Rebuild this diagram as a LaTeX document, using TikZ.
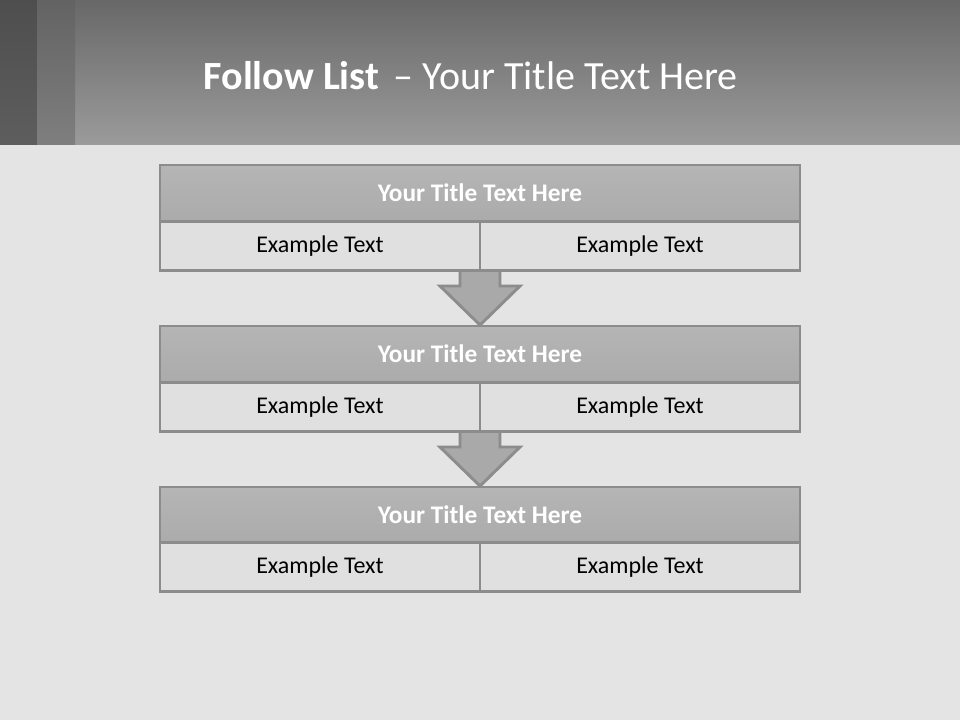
\documentclass[tikz,border=0pt]{standalone}
\usepackage{fontspec}
\setmainfont{Carlito}
\definecolor{bgmarble}{HTML}{E4E4E4}
\definecolor{bartop}{HTML}{686868}
\definecolor{barbottom}{HTML}{9B9B9B}
\definecolor{edgegray}{HTML}{8C8C8C}
\definecolor{headgray}{HTML}{ABABAB}
\definecolor{cellgray}{HTML}{E0E0E0}
\definecolor{arrowgray}{HTML}{A9A9A9}

\begin{document}
\begin{tikzpicture}[x=0.75pt,y=-0.75pt,
  boxhead/.style={rectangle,draw=edgegray,line width=2.2pt,
    top color=headgray!88!white,bottom color=headgray,
    minimum width=480pt,minimum height=42pt,inner sep=0pt,
    text=white,font=\bfseries\fontsize{19}{23}\selectfont},
  boxcell/.style={rectangle,draw=edgegray,line width=2.2pt,fill=cellgray,
    minimum width=240pt,minimum height=36.75pt,inner sep=0pt,
    font=\fontsize{18}{22}\selectfont},
  downarrow/.style={draw=edgegray,line width=2.2pt,fill=arrowgray,line join=miter}]
  % slide background and header bar
  \useasboundingbox (0,0) rectangle (960,720);
  \fill[bgmarble] (0,0) rectangle (960,720);
  \shade[top color=bartop,bottom color=barbottom] (0,0) rectangle (960,145);
  \shade[top color=bartop!75!black,bottom color=bartop!90!black] (0,0) rectangle (37,145);
  \shade[top color=bartop!95!black,bottom color=bartop!85!white] (37,0) rectangle (75,145);
  \draw (199,76) node[anchor=west,text=white,font=\fontsize{30}{36}\selectfont] (title)
    {\textbf{Follow List}\hspace{11pt}– Your Title Text Here};

  % tips of the block arrows (drawn first, the boxes cover the shaft ends)
  \coordinate (T1) at (480,325);
  \coordinate (T2) at (480,486);
  \foreach \t in {T1,T2}{
    \draw[downarrow] (\t) -- ++(-40,-39) -- ++(20,0) -- ++(0,-20)
      -- ++(40,0) -- ++(0,20) -- ++(20,0) -- cycle;
  }

  % first list block
  \draw (480,193) node[boxhead] (H1) {Your Title Text Here};
  \draw (320,246) node[boxcell] (L1) {Example Text};
  \draw (640,246) node[boxcell] (R1) {Example Text};
  % second list block
  \draw (480,354) node[boxhead] (H2) {Your Title Text Here};
  \draw (320,407) node[boxcell] (L2) {Example Text};
  \draw (640,407) node[boxcell] (R2) {Example Text};
  % third list block
  \draw (480,515) node[boxhead] (H3) {Your Title Text Here};
  \draw (320,567) node[boxcell] (L3) {Example Text};
  \draw (640,567) node[boxcell] (R3) {Example Text};
\end{tikzpicture}
\end{document}
